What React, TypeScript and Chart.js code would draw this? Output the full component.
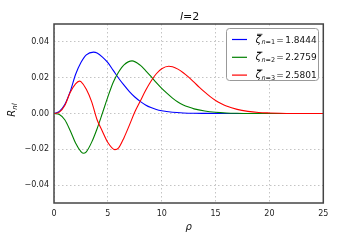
import { useEffect, useRef } from 'react';
import { Chart, registerables } from 'chart.js';

Chart.register(...registerables);

// ---- data ----
const rhoBlue = [0, 0.5, 1, 1.5, 2, 2.5, 3, 3.67, 4, 4.5, 5, 5.5, 6, 6.5, 7, 7.5, 8, 8.5, 9, 9.5, 10, 11, 12, 13, 14, 16, 25];
const rBlue = [0, 0.0012, 0.005, 0.0122, 0.0218, 0.0285, 0.0328, 0.0343, 0.0338, 0.0315, 0.0284, 0.0241, 0.0197, 0.0158, 0.0122, 0.0092, 0.0068, 0.0048, 0.0033, 0.0022, 0.0015, 0.0007, 0.0003, 0.0001, 0.00005, 0, 0];

const rhoGreen = [0, 0.5, 1, 1.5, 2, 2.5, 2.7, 3, 3.5, 4, 4.5, 5, 5.5, 6, 6.5, 7.25, 8, 8.5, 9, 9.5, 10, 10.5, 11, 11.5, 12, 12.5, 13, 14, 15, 16, 17, 18, 25];
const rGreen = [0, -0.0006, -0.0035, -0.0095, -0.0165, -0.0213, -0.0222, -0.0214, -0.016, -0.0085, 0.0003, 0.0093, 0.0175, 0.0232, 0.0272, 0.0294, 0.027, 0.024, 0.0207, 0.0172, 0.014, 0.0112, 0.0086, 0.0064, 0.0048, 0.0036, 0.0026, 0.0014, 0.0007, 0.0003, 0.0001, 0, 0];

const rhoRed = [0, 0.5, 1, 1.5, 2, 2.35, 2.5, 3, 3.5, 4, 4.5, 5, 5.65, 6, 6.5, 7, 7.5, 8, 8.5, 9, 9.5, 10, 10.65, 11, 11.5, 12, 12.5, 13, 13.5, 14, 14.5, 15, 15.5, 16, 17, 18, 19, 20, 21, 22, 25];
const rRed = [0, 0.0008, 0.0045, 0.0117, 0.0165, 0.0181, 0.0178, 0.0135, 0.0065, -0.0035, -0.01, -0.0162, -0.0202, -0.0192, -0.0135, -0.0065, 0.0008, 0.0068, 0.0128, 0.018, 0.0222, 0.025, 0.0264, 0.0261, 0.0248, 0.0228, 0.0203, 0.0175, 0.0146, 0.0119, 0.0094, 0.0073, 0.0056, 0.0042, 0.0023, 0.0012, 0.0006, 0.0003, 0.0001, 0, 0];

const seriesColors = ['#0000ff', '#008000', '#ff0000'];
const legendN = ['1', '2', '3'];
const legendValues = ['1.8444', '2.2759', '2.5801'];
const xTicks = [0, 5, 10, 15, 20, 25];
const yTicks = [-0.04, -0.02, 0, 0.02, 0.04];

const FONT = 'DejaVu Sans';

const toPoints = (xs: number[], ys: number[]) => xs.map((x, i) => ({ x, y: ys[i] }));

export default function App() {
  const ref = useRef<HTMLCanvasElement>(null);

  useEffect(() => {
    document.body.style.margin = '0';
    const canvas = ref.current;
    if (!canvas) return;

    const overlay = {
      id: 'overlay',
      afterDraw(chart: any) {
        const ctx = chart.ctx as CanvasRenderingContext2D;
        const a = chart.chartArea;
        ctx.save();
        // frame
        ctx.strokeStyle = '#444444';
        ctx.lineWidth = 1.5;
        ctx.strokeRect(a.left, a.top, a.right - a.left, a.bottom - a.top);

        ctx.fillStyle = '#111111';
        ctx.textBaseline = 'alphabetic';
        const cx = (a.left + a.right) / 2;

        // title  l=2
        ctx.font = `italic 11px "${FONT}"`;
        const wl = ctx.measureText('l').width;
        ctx.font = `11px "${FONT}"`;
        const wr = ctx.measureText('=2').width;
        let tx = cx + 1 - (wl + wr) / 2;
        ctx.font = `italic 11px "${FONT}"`;
        ctx.textAlign = 'left';
        ctx.fillText('l', tx, 19.5);
        ctx.font = `11px "${FONT}"`;
        ctx.fillText('=2', tx + wl, 19.5);

        // x label rho
        ctx.font = `italic 10px "${FONT}"`;
        ctx.textAlign = 'center';
        ctx.fillText('\u03c1', cx, 229.5);

        // y label R_nl
        ctx.save();
        ctx.translate(14.5, 110);
        ctx.rotate(-Math.PI / 2);
        ctx.font = `italic 10px "${FONT}"`;
        const wR = ctx.measureText('R').width;
        ctx.font = `italic 7px "${FONT}"`;
        const wS = ctx.measureText('nl').width;
        const sx = -(wR + wS) / 2;
        ctx.textAlign = 'left';
        ctx.font = `italic 10px "${FONT}"`;
        ctx.fillText('R', sx, 0);
        ctx.font = `italic 7px "${FONT}"`;
        ctx.fillText('nl', sx + wR, 2.5);
        ctx.restore();

        // legend
        const lx = 226.5, ly = 28.5, lw = 92, lh = 52;
        ctx.beginPath();
        ctx.roundRect(lx, ly, lw, lh, 3);
        ctx.fillStyle = '#ffffff';
        ctx.fill();
        ctx.strokeStyle = '#999999';
        ctx.lineWidth = 1;
        ctx.stroke();
        for (let i = 0; i < 3; i++) {
          const ry = 39.5 + i * 17.8;
          ctx.strokeStyle = seriesColors[i];
          ctx.lineWidth = 1.2;
          ctx.beginPath();
          ctx.moveTo(232, ry);
          ctx.lineTo(247, ry);
          ctx.stroke();

          ctx.fillStyle = '#111111';
          ctx.textAlign = 'left';
          const base = ry + 3;
          ctx.font = `italic 10px "${FONT}"`;
          ctx.fillText('\u03b6', 255.5, base);
          const wz = ctx.measureText('\u03b6').width;
          // overline
          ctx.strokeStyle = '#111111';
          ctx.lineWidth = 0.8;
          ctx.beginPath();
          ctx.moveTo(257, ry - 5.2);
          ctx.lineTo(257 + wz, ry - 5.2);
          ctx.stroke();
          // subscript n=k
          let sx2 = 255.5 + wz + 0.5;
          ctx.font = `italic 6.5px "${FONT}"`;
          ctx.fillText('n', sx2, base + 1.5);
          sx2 += ctx.measureText('n').width;
          ctx.font = `6.5px "${FONT}"`;
          ctx.fillText('=' + legendN[i], sx2, base + 1.5);
          sx2 += ctx.measureText('=' + legendN[i]).width + 1;
          ctx.font = `9px "${FONT}"`;
          ctx.fillText('=', sx2, base);
          sx2 += ctx.measureText('=').width + 1.5;
          ctx.fillText(legendValues[i], sx2, base);
        }
        ctx.restore();
      },
    };

    const mk = (xs: number[], ys: number[], color: string) => ({
      data: toPoints(xs, ys),
      showLine: true,
      borderColor: color,
      backgroundColor: color,
      borderWidth: 1.1,
      pointRadius: 0,
      pointHoverRadius: 0,
      fill: false,
      cubicInterpolationMode: 'monotone' as const,
    });

    const chart = new Chart(canvas, {
      type: 'scatter',
      data: {
        datasets: [
          mk(rhoRed, rRed, seriesColors[2]),
          mk(rhoGreen, rGreen, seriesColors[1]),
          mk(rhoBlue, rBlue, seriesColors[0]),
        ],
      },
      options: {
        animation: false,
        responsive: false,
        events: [],
        layout: { padding: { left: 0, top: 24, right: 36.7, bottom: 0 } },
        plugins: { legend: { display: false }, title: { display: false }, tooltip: { enabled: false } },
        scales: {
          x: {
            type: 'linear',
            min: 0,
            max: 25,
            afterFit: (s: any) => { s.height = 37; },
            afterBuildTicks: (s: any) => { s.ticks = xTicks.map((v) => ({ value: v })); },
            grid: { color: '#c4c4c4', lineWidth: 1, drawTicks: false },
            border: { display: false, dash: [1.5, 2.5] },
            ticks: {
              padding: 6,
              color: '#222222',
              font: { family: FONT, size: 8 },
              maxRotation: 0,
              callback: (v: any) => String(v),
            },
          },
          y: {
            type: 'linear',
            min: -0.05,
            max: 0.05,
            afterFit: (s: any) => { s.width = 54; },
            afterBuildTicks: (s: any) => { s.ticks = yTicks.map((v) => ({ value: v })); },
            grid: { color: '#c4c4c4', lineWidth: 1, drawTicks: false },
            border: { display: false, dash: [1.5, 2.5] },
            ticks: {
              padding: 5,
              color: '#222222',
              font: { family: FONT, size: 8 },
              callback: (v: any) => {
                const n = Number(v);
                const s = Math.abs(n).toFixed(2);
                return n < -1e-9 ? '\u2212' + s : s;
              },
            },
          },
        },
      },
      plugins: [overlay],
    });

    return () => chart.destroy();
  }, []);

  return (
    <div style={{ width: 360, height: 240 }}>
      <canvas ref={ref} width={360} height={240} style={{ width: 360, height: 240, display: 'block' }} />
    </div>
  );
}
